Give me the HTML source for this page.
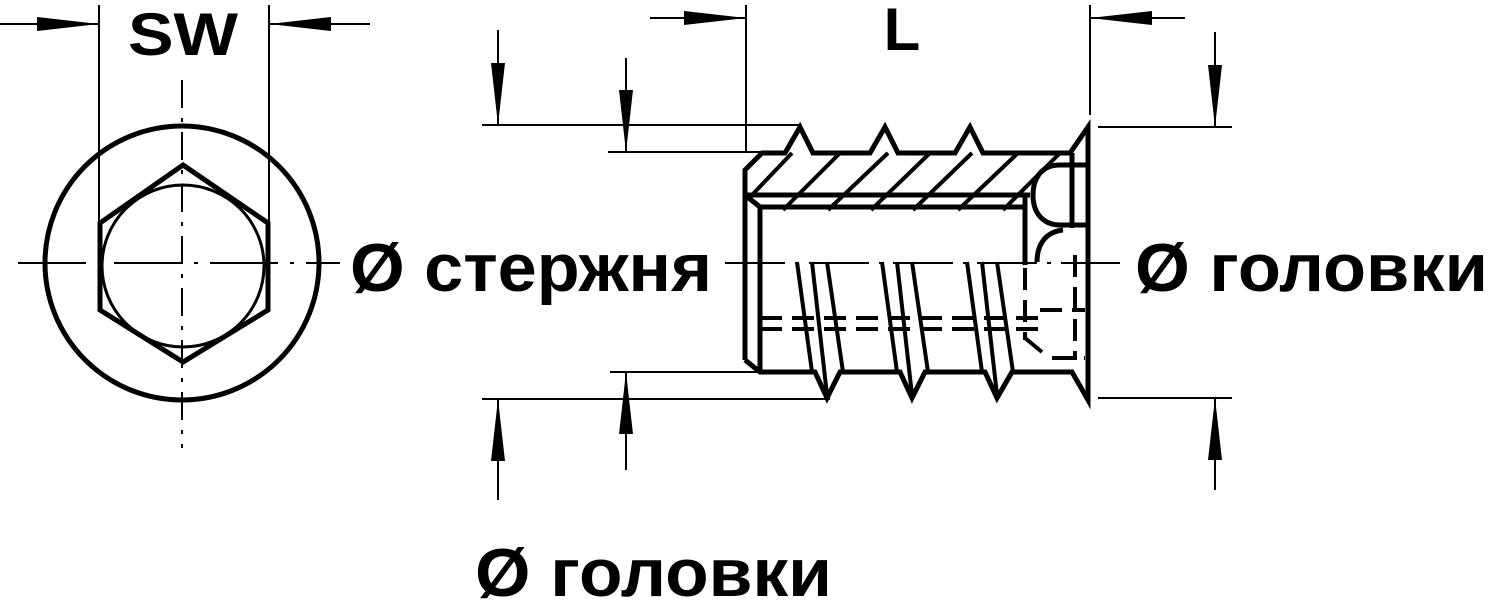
<!DOCTYPE html>
<html><head><meta charset="utf-8"><style>html,body{margin:0;padding:0;background:#fff}svg{display:block}text{font-family:"Liberation Sans",sans-serif;font-weight:bold;fill:#000}</style></head>
<body>
<svg width="1488" height="601" viewBox="0 0 1488 601" xmlns="http://www.w3.org/2000/svg">
<g fill="none" stroke="#000">
<!-- left view -->
<circle cx="182" cy="263" r="137" stroke-width="5"/>
<circle cx="183" cy="266" r="81" stroke-width="3"/>
<polygon points="183,165 268,223 268,310 183,362 100,310 100,223" stroke-width="5"/>
<line x1="99" y1="5" x2="99" y2="223" stroke-width="2"/>
<line x1="269" y1="5" x2="269" y2="223" stroke-width="2"/>
<line x1="18" y1="263" x2="340" y2="263" stroke-width="2" stroke-dasharray="68,12,4,12"/>
<line x1="182" y1="80" x2="182" y2="448" stroke-width="2" stroke-dasharray="28,10,4,10"/>
<line x1="0" y1="24" x2="99" y2="24" stroke-width="2"/>
<path d="M37,17 L99,24 L37,31 z" fill="#000" stroke="none"/>
<line x1="269" y1="24" x2="370" y2="24" stroke-width="2"/>
<path d="M331,17 L269,24 L331,31 z" fill="#000" stroke="none"/>

<!-- L dimension -->
<line x1="746" y1="5" x2="746" y2="152" stroke-width="2"/>
<line x1="1090" y1="5" x2="1090" y2="115" stroke-width="2"/>
<line x1="650" y1="18" x2="746" y2="18" stroke-width="2"/>
<path d="M684,11 L746,18 L684,25 z" fill="#000" stroke="none"/>
<line x1="1090" y1="18" x2="1185" y2="18" stroke-width="2"/>
<path d="M1152,11 L1090,18 L1152,25 z" fill="#000" stroke="none"/>

<!-- left dims -->
<line x1="482" y1="125" x2="800" y2="125" stroke-width="2"/>
<line x1="608" y1="152" x2="760" y2="152" stroke-width="2"/>
<line x1="498" y1="30" x2="498" y2="125" stroke-width="2"/>
<path d="M491,63 L498,125 L505,63 z" fill="#000" stroke="none"/>
<line x1="626" y1="58" x2="626" y2="152" stroke-width="2"/>
<path d="M619,90 L626,152 L633,90 z" fill="#000" stroke="none"/>
<line x1="610" y1="372" x2="760" y2="372" stroke-width="2"/>
<line x1="482" y1="399" x2="830" y2="399" stroke-width="2"/>
<line x1="626" y1="372" x2="626" y2="470" stroke-width="2"/>
<path d="M619,434 L626,372 L633,434 z" fill="#000" stroke="none"/>
<line x1="498" y1="399" x2="498" y2="500" stroke-width="2"/>
<path d="M491,461 L498,399 L505,461 z" fill="#000" stroke="none"/>
<!-- right dims -->
<line x1="1098" y1="127" x2="1232" y2="127" stroke-width="2"/>
<line x1="1098" y1="398" x2="1232" y2="398" stroke-width="2"/>
<line x1="1215" y1="32" x2="1215" y2="127" stroke-width="2"/>
<path d="M1208,65 L1215,127 L1222,65 z" fill="#000" stroke="none"/>
<line x1="1215" y1="398" x2="1215" y2="490" stroke-width="2"/>
<path d="M1208,460 L1215,398 L1222,460 z" fill="#000" stroke="none"/>

<line x1="725" y1="263" x2="1120" y2="263" stroke-width="2" stroke-dasharray="60,10,4,10"/>

<!-- body -->
<g stroke-width="5" stroke-linejoin="miter">
<path d="M745,360 L745,170 L762,153 L785,153 L800,127 L813,153 L870,153 L885,127 L898,153 L955,153 L970,127 L983,153 L1070,153 L1088,127 L1088,400 L1072,372 L1012,372 L997,398 L985,372 L925,372 L912,398 L900,372 L840,372 L827,398 L815,372 L760,372 L745,360"/>
<line x1="745" y1="195" x2="1030" y2="195"/>
<line x1="760" y1="207" x2="1025" y2="207"/>
<line x1="760" y1="207" x2="760" y2="372"/>
<line x1="745" y1="195" x2="760" y2="207"/>
<line x1="1025" y1="195" x2="1025" y2="265"/>
<line x1="1072" y1="153" x2="1072" y2="228"/>
<path d="M1088,165 L1060,165 C1040,165 1033,180 1033,195 C1033,215 1045,225 1060,225 L1088,225"/>
<path d="M1063,230 C1045,232 1037,245 1037,262"/>
</g>
<g stroke-width="4">
<line x1="752" y1="195" x2="792" y2="153"/>
<line x1="783" y1="210" x2="840" y2="153"/>
<line x1="828" y1="210" x2="888" y2="153"/>
<line x1="871" y1="210" x2="930" y2="153"/>
<line x1="913" y1="210" x2="972" y2="153"/>
<line x1="958" y1="210" x2="1018" y2="153"/>
<line x1="1003" y1="210" x2="1060" y2="153"/>
</g>
<g stroke-width="4">
<line x1="797" y1="262" x2="812" y2="372"/>
<line x1="812" y1="262" x2="827" y2="395"/>
<line x1="827" y1="262" x2="843" y2="372"/>
<line x1="882" y1="262" x2="897" y2="372"/>
<line x1="897" y1="262" x2="912" y2="395"/>
<line x1="912" y1="262" x2="928" y2="372"/>
<line x1="967" y1="262" x2="982" y2="372"/>
<line x1="982" y1="262" x2="997" y2="395"/>
<line x1="997" y1="262" x2="1013" y2="372"/>
</g>
<g stroke-width="4" stroke-dasharray="22,10">
<line x1="760" y1="318" x2="1040" y2="318"/>
<line x1="760" y1="329" x2="1040" y2="329"/>
<line x1="1025" y1="268" x2="1025" y2="340"/>
<line x1="1040" y1="310" x2="1085" y2="310"/>
<line x1="1052" y1="358" x2="1085" y2="358"/>
<line x1="1075" y1="255" x2="1075" y2="360"/>
</g>
<line x1="1025" y1="338" x2="1042" y2="352" stroke-width="4"/>
</g>

<text x="902" y="50" font-size="60" text-anchor="middle">L</text>
<text x="183" y="55" font-size="60" text-anchor="middle" textLength="110" lengthAdjust="spacingAndGlyphs">SW</text>
<text x="350" y="291" font-size="68" textLength="362" lengthAdjust="spacingAndGlyphs">Ø стержня</text>
<text x="1135" y="291" font-size="68" textLength="353" lengthAdjust="spacingAndGlyphs">Ø головки</text>
<text x="475" y="596" font-size="68" textLength="357" lengthAdjust="spacingAndGlyphs">Ø головки</text>
</svg>
</body></html>
